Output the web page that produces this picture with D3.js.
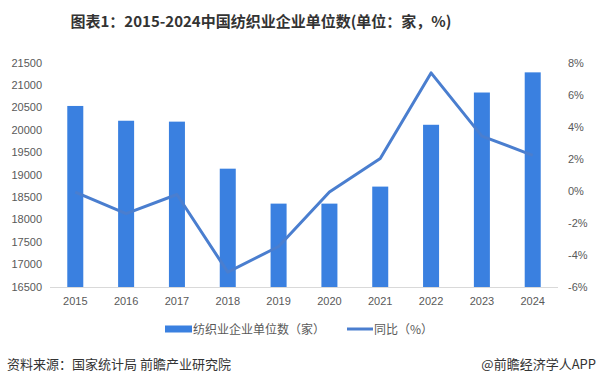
<!DOCTYPE html>
<html><head><meta charset="utf-8">
<script src="https://cdn.jsdelivr.net/npm/d3@7"></script>
<style>body{margin:0;background:#fff;}svg{display:block;font-family:"Noto Sans CJK SC","Noto Sans",sans-serif;}</style>
</head><body>
<svg id="c" width="598" height="385"></svg>
<script>
const years = ["2015","2016","2017","2018","2019","2020","2021","2022","2023","2024"];
const units = [20530, 20200, 20180, 19130, 18350, 18350, 18730, 20110, 20830, 21280];
const yoy = [-0.1, -1.45, -0.25, -5.1, -3.5, -0.1, 2.0, 7.35, 3.4, 2.2];
const leftTicks = [16500,17000,17500,18000,18500,19000,19500,20000,20500,21000,21500];
const rightTicks = [-6,-4,-2,0,2,4,6,8];

const svg = d3.select("#c");
const barColor = "#3a80e0", lineColor = "#4a7ecf";
const x = d3.scaleBand().domain(years).range([50, 558]).paddingInner(0.685).paddingOuter(0.34);
const yL = d3.scaleLinear().domain([16500, 21500]).range([286.5, 62.5]);
const yR = d3.scaleLinear().domain([-6, 8]).range([286.5, 62.5]);

svg.append("text").attr("x", 261).attr("y", 27).attr("text-anchor", "middle")
  .attr("font-size", 15).attr("font-weight", "bold").attr("fill", "#333")
  .text("图表1：2015-2024中国纺织业企业单位数(单位：家，%)");

const gl = svg.append("g").attr("transform", "translate(42,0)")
  .call(d3.axisLeft(yL).tickValues(leftTicks).tickSize(0).tickPadding(0).tickFormat(d3.format("d")));
const gr = svg.append("g").attr("transform", "translate(568,0)")
  .call(d3.axisRight(yR).tickValues(rightTicks).tickSize(0).tickPadding(0).tickFormat(d => d + "%"));
const gx = svg.append("g").attr("transform", "translate(0,287)")
  .call(d3.axisBottom(x).tickSize(0).tickPadding(10));
[gl, gr, gx].forEach(g => {
  g.select(".domain").remove();
  g.selectAll("text").attr("fill", "#595959").attr("font-size", 11).attr("font-family", "'Liberation Sans',Arial,sans-serif");
});
svg.append("line").attr("x1", 50).attr("x2", 558).attr("y1", 287.5).attr("y2", 287.5).attr("stroke", "#d9d9d9");

svg.append("g").selectAll("rect").data(years).join("rect")
  .attr("x", d => x(d)).attr("width", x.bandwidth())
  .attr("y", (d, i) => yL(units[i])).attr("height", (d, i) => 287 - yL(units[i]))
  .attr("fill", barColor);

const line = d3.line().x((d, i) => x(years[i]) + x.bandwidth() / 2).y(d => yR(d));
svg.append("path").datum(yoy).attr("d", line).attr("fill", "none")
  .attr("stroke", lineColor).attr("stroke-width", 3).attr("stroke-linejoin", "round");

// legend
const lg = svg.append("g");
lg.append("rect").attr("x", 165).attr("y", 325.5).attr("width", 27).attr("height", 7).attr("fill", barColor);
lg.append("text").attr("x", 193).attr("y", 333.5).attr("font-size", 12).attr("fill", "#595959").text("纺织业企业单位数（家）");
lg.append("line").attr("x1", 347).attr("x2", 373).attr("y1", 329).attr("y2", 329).attr("stroke", lineColor).attr("stroke-width", 3);
lg.append("text").attr("x", 374).attr("y", 333.5).attr("font-size", 12).attr("fill", "#595959").text("同比（%）");

// footer
svg.append("text").attr("x", 7).attr("y", 368.5).attr("font-size", 13).attr("fill", "#333").text("资料来源：国家统计局 前瞻产业研究院");
svg.append("text").attr("x", 596).attr("y", 368.5).attr("text-anchor", "end").attr("font-size", 13).attr("fill", "#333").text("@前瞻经济学人APP");
</script>
</body></html>
